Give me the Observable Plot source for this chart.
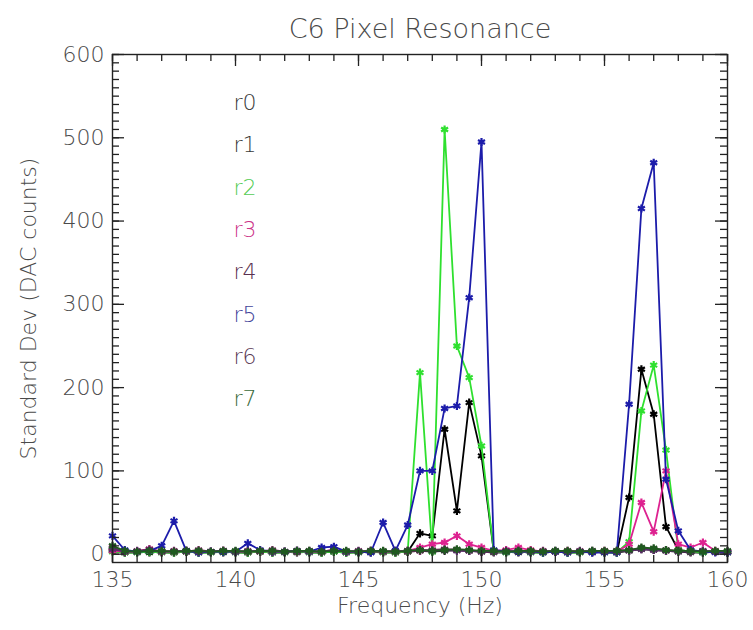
<!DOCTYPE html>
<html>
<head>
<meta charset="utf-8">
<script src="https://cdn.jsdelivr.net/npm/d3@7"></script>
<script src="https://cdn.jsdelivr.net/npm/@observablehq/plot@0.6"></script>
<style>
  html, body { margin: 0; padding: 0; background: #fff; }
  #chart svg { display: block; }
</style>
</head>
<body>
<div id="chart"></div>
<script>
const title = "C6 Pixel Resonance";
const xLabel = "Frequency (Hz)";
const yLabel = "Standard Dev (DAC counts)";

const freqs = [135,135.5,136,136.5,137,137.5,138,138.5,139,139.5,140,140.5,141,141.5,142,142.5,143,143.5,144,144.5,145,145.5,146,146.5,147,147.5,148,148.5,149,149.5,150,150.5,151,151.5,152,152.5,153,153.5,154,154.5,155,155.5,156,156.5,157,157.5,158,158.5,159,159.5,160];

const seriesNames = ["r0","r1","r2","r3","r4","r5","r6","r7"];
const lineColors  = ["#222222","#000000","#2fe02f","#dd2290","#7a1f60","#1c1caa","#5a2a6a","#1f5a1f"];
const labelColors = ["#3a3a3a","#3a3a3a","#55cc55","#cc3388","#5a3050","#44449a","#5a3a55","#3a6a3a"];

const r0 = [5,2,2,3,2,2,3,2,2,3,2,2,3,2,2,3,2,2,3,2,2,3,2,2,3,4,3,4,5,4,3,2,2,3,2,2,3,2,2,3,2,2,4,6,5,4,3,2,2,3,2];
const r1 = [4,2,3,2,3,2,3,2,3,2,3,2,3,2,3,2,3,2,3,2,3,2,3,2,3,25,22,150,52,182,118,3,3,2,3,2,3,2,3,2,3,2,68,222,168,33,5,3,2,3,2];
const r2 = [3,2,2,3,2,2,3,2,2,3,2,2,3,2,2,3,2,2,3,2,2,3,2,2,3,218,3,510,250,212,130,3,2,3,2,2,3,2,2,3,2,2,15,172,227,125,5,3,2,3,2];
const r3 = [4,3,3,6,3,3,4,3,3,4,3,3,4,3,3,4,3,3,5,3,3,4,3,3,4,8,12,14,22,12,8,4,5,8,5,3,3,4,3,3,4,3,12,62,27,100,12,8,14,4,3];
const r4 = [8,3,4,6,3,4,3,5,3,4,3,4,3,5,3,3,4,3,5,3,4,3,3,4,3,4,5,6,5,4,3,3,4,3,3,4,3,3,4,3,3,4,5,7,6,5,4,3,4,3,3];
const r5 = [22,5,3,4,10,40,4,2,3,3,3,13,5,3,3,4,3,8,9,3,3,2,38,4,35,100,100,175,178,308,495,5,3,3,3,2,3,2,3,2,2,2,180,415,470,90,28,5,3,2,2];
const r6 = [6,3,3,4,3,3,4,3,3,4,3,3,4,3,3,4,3,3,4,3,3,4,3,3,4,5,4,5,4,4,3,3,3,4,3,3,4,3,3,4,3,3,4,6,5,4,3,3,4,3,3];
const r7 = [10,4,3,4,4,3,4,4,3,4,4,3,4,4,3,4,4,3,4,4,3,4,4,3,4,5,4,5,6,5,4,4,3,4,4,3,4,4,3,4,4,4,5,8,7,5,4,4,3,4,4];

const xTicks = [135,140,145,150,155,160];
const yTicks = [0,100,200,300,400,500,600];

const allSeries = [r0,r1,r2,r3,r4,r5,r6,r7];

const W = 753, H = 630;
const mL = 112, mR = 26, mT = 54, mB = 68;
const innerW = W - mL - mR, innerH = H - mT - mB;
const xDom = [135, 160], yDom = [-10, 600];
const font = "DejaVu Sans, sans-serif";
const ink = "#4a4a4a";

const xMinor = d3.range(135, 160.001, 1);
const yMinor = d3.range(0, 600.001, 10);

// tick lengths converted from pixels into data units via the scale extents
const pxY = (yDom[1] - yDom[0]) / innerH;
const pxX = (xDom[1] - xDom[0]) / innerW;
const majLen = 12, minLen = 7;

const marks = [];
allSeries.forEach((vals, i) => {
  const data = freqs.map((f, j) => ({f, v: vals[j], s: seriesNames[i]}));
  marks.push(Plot.line(data, {x: "f", y: "v", stroke: lineColors[i], strokeWidth: 1.8}));
  marks.push(Plot.dot(data, {x: "f", y: "v", symbol: "asterisk", r: 3.8, stroke: lineColors[i], strokeWidth: 2.2}));
});

marks.push(Plot.frame({stroke: "#222", strokeWidth: 1.4}));
const tk = {stroke: "#222", strokeWidth: 1.3};
function xTickMarks(vals, len) {
  return [
    Plot.ruleX(vals, {x: d => d, y1: yDom[0], y2: yDom[0] + len * pxY, ...tk}),
    Plot.ruleX(vals, {x: d => d, y1: yDom[1], y2: yDom[1] - len * pxY, ...tk})
  ];
}
function yTickMarks(vals, len) {
  return [
    Plot.ruleY(vals, {y: d => d, x1: xDom[0], x2: xDom[0] + len * pxX, ...tk}),
    Plot.ruleY(vals, {y: d => d, x1: xDom[1], x2: xDom[1] - len * pxX, ...tk})
  ];
}
marks.push(...xTickMarks(xMinor, minLen), ...xTickMarks(xTicks, majLen));
marks.push(...yTickMarks(yMinor, minLen), ...yTickMarks(yTicks, majLen));

marks.push(Plot.axisX(xTicks, {tickSize: 0, tickPadding: 9, fontSize: 22, fontWeight: 200, fill: ink, label: null, fontFamily: font}));
marks.push(Plot.axisY(yTicks, {tickSize: 0, tickPadding: 8, fontSize: 22, fontWeight: 200, fill: ink, label: null, fontFamily: font}));

marks.push(Plot.text([title], {frameAnchor: "top", dy: -36, fontSize: 27, fontWeight: 200, fill: ink, fontFamily: font}));
marks.push(Plot.text([xLabel], {frameAnchor: "bottom", dy: 50, fontSize: 22, fontWeight: 200, fill: ink, fontFamily: font, letterSpacing: 2}));
marks.push(Plot.text([yLabel], {frameAnchor: "left", textAnchor: "middle", rotate: -90, dx: -84, fontSize: 22, fontWeight: 200, fill: ink, fontFamily: font, letterSpacing: 2}));

seriesNames.forEach((n, i) => {
  marks.push(Plot.text([n], {frameAnchor: "top-left", textAnchor: "start", dx: 121, dy: 40 + i * 42.3, fontSize: 22, fontWeight: 200, fill: labelColors[i], fontFamily: font}));
});

const chart = Plot.plot({
  width: W, height: H,
  marginLeft: mL, marginRight: mR, marginTop: mT, marginBottom: mB,
  style: {background: "#fff", fontFamily: font},
  x: {domain: xDom, axis: null},
  y: {domain: yDom, axis: null},
  marks
});
document.getElementById("chart").appendChild(chart);
</script>
</body>
</html>
